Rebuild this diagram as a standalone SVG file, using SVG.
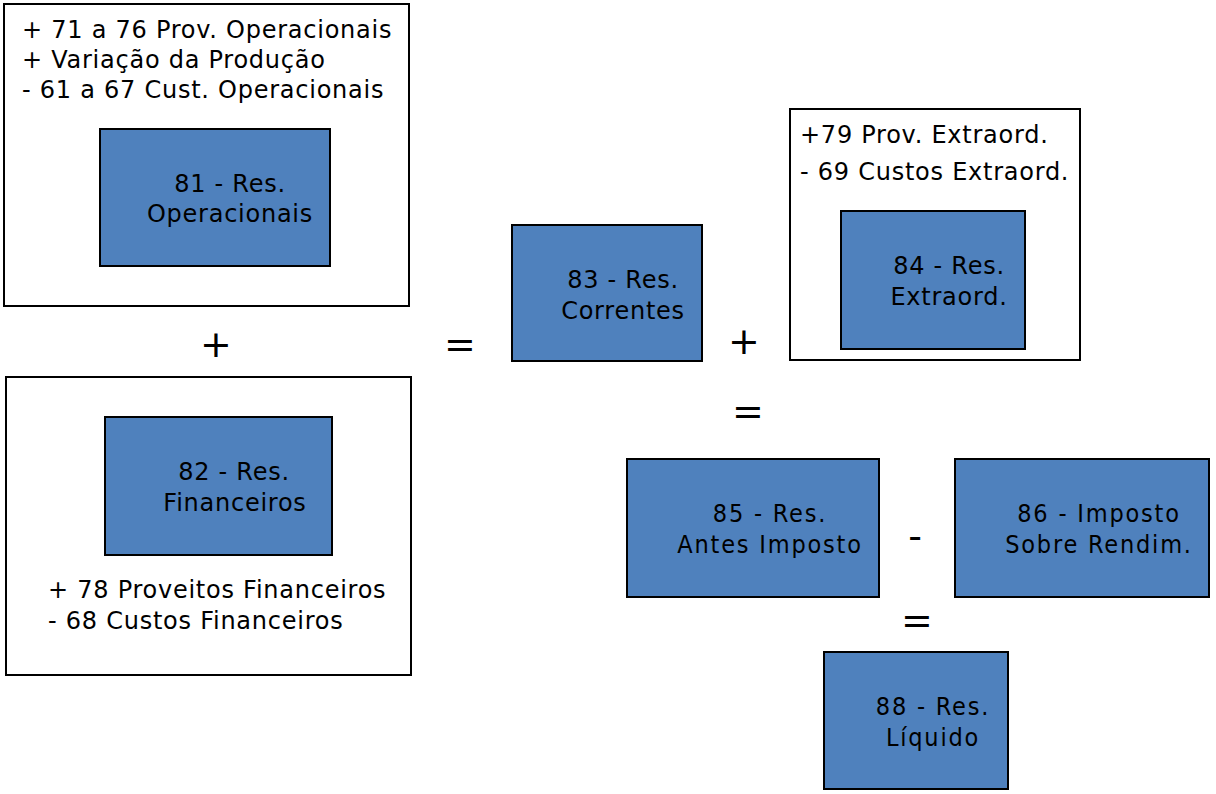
<svg xmlns="http://www.w3.org/2000/svg" width="1216" height="794" viewBox="0 0 1216 794">
<style>
.outer{fill:#fff;stroke:#000;stroke-width:2}
.blue{fill:#4F81BD;stroke:#000;stroke-width:2}
text{font-family:"DejaVu Sans","Verdana",sans-serif;font-size:24px;letter-spacing:0.75px;fill:#000}
.c{text-anchor:middle}
.cond{font-family:"DejaVu Sans Condensed","DejaVu Sans",sans-serif;font-stretch:condensed;font-size:25px;letter-spacing:1.8px}
.op{font-size:38px;letter-spacing:0;text-anchor:middle}
</style>
<rect width="1216" height="794" fill="#fff"/>
<g id="box-operacional">
<rect class="outer" x="4" y="4" width="405" height="302"/>
<text x="22" y="38">+ 71 a 76 Prov. Operacionais</text>
<text x="22" y="68">+ Variação da Produção</text>
<text x="22" y="98">- 61 a 67 Cust. Operacionais</text>
</g>
<g id="node-81">
<rect class="blue" x="100" y="129" width="230" height="137"/>
<text class="c" x="230" y="192">81 - Res.</text>
<text class="c" x="230" y="222">Operacionais</text>
</g>
<g id="box-financeiro">
<rect class="outer" x="6" y="377" width="405" height="298"/>
<text x="48" y="598">+ 78 Proveitos Financeiros</text>
<text x="48" y="629">- 68 Custos Financeiros</text>
</g>
<g id="node-82">
<rect class="blue" x="105" y="417" width="227" height="138"/>
<text class="c" x="234" y="480">82 - Res.</text>
<text class="c" x="235" y="511">Financeiros</text>
</g>
<g id="node-83">
<rect class="blue" x="512" y="225" width="190" height="136"/>
<text class="c" x="623" y="288">83 - Res.</text>
<text class="c" x="623" y="319">Correntes</text>
</g>
<g id="box-extraord">
<rect class="outer" x="790" y="109" width="290" height="251"/>
<text x="800" y="143">+79 Prov. Extraord.</text>
<text x="800" y="180">- 69 Custos Extraord.</text>
</g>
<g id="node-84">
<rect class="blue" x="841" y="211" width="184" height="138"/>
<text class="c" x="949" y="274">84 - Res.</text>
<text class="c" x="949" y="305">Extraord.</text>
</g>
<g id="node-85">
<rect class="blue" x="627" y="459" width="252" height="138"/>
<text class="c cond" x="770" y="522">85 - Res.</text>
<text class="c cond" x="770" y="553">Antes Imposto</text>
</g>
<g id="node-86">
<rect class="blue" x="955" y="459" width="254" height="138"/>
<text class="c cond" x="1099" y="522">86 - Imposto</text>
<text class="c cond" x="1099" y="553">Sobre Rendim.</text>
</g>
<g id="node-88">
<rect class="blue" x="824" y="652" width="184" height="137"/>
<text class="c cond" x="933" y="715">88 - Res.</text>
<text class="c cond" x="933" y="746">Líquido</text>
</g>
<g id="connectors">
<text class="op" x="216" y="357">+</text>
<text class="op" x="460" y="357">=</text>
<text class="op" x="744" y="354">+</text>
<text class="op" x="748" y="424">=</text>
<text class="op" x="915" y="549">-</text>
<text class="op" x="917" y="633">=</text>
</g>
</svg>
